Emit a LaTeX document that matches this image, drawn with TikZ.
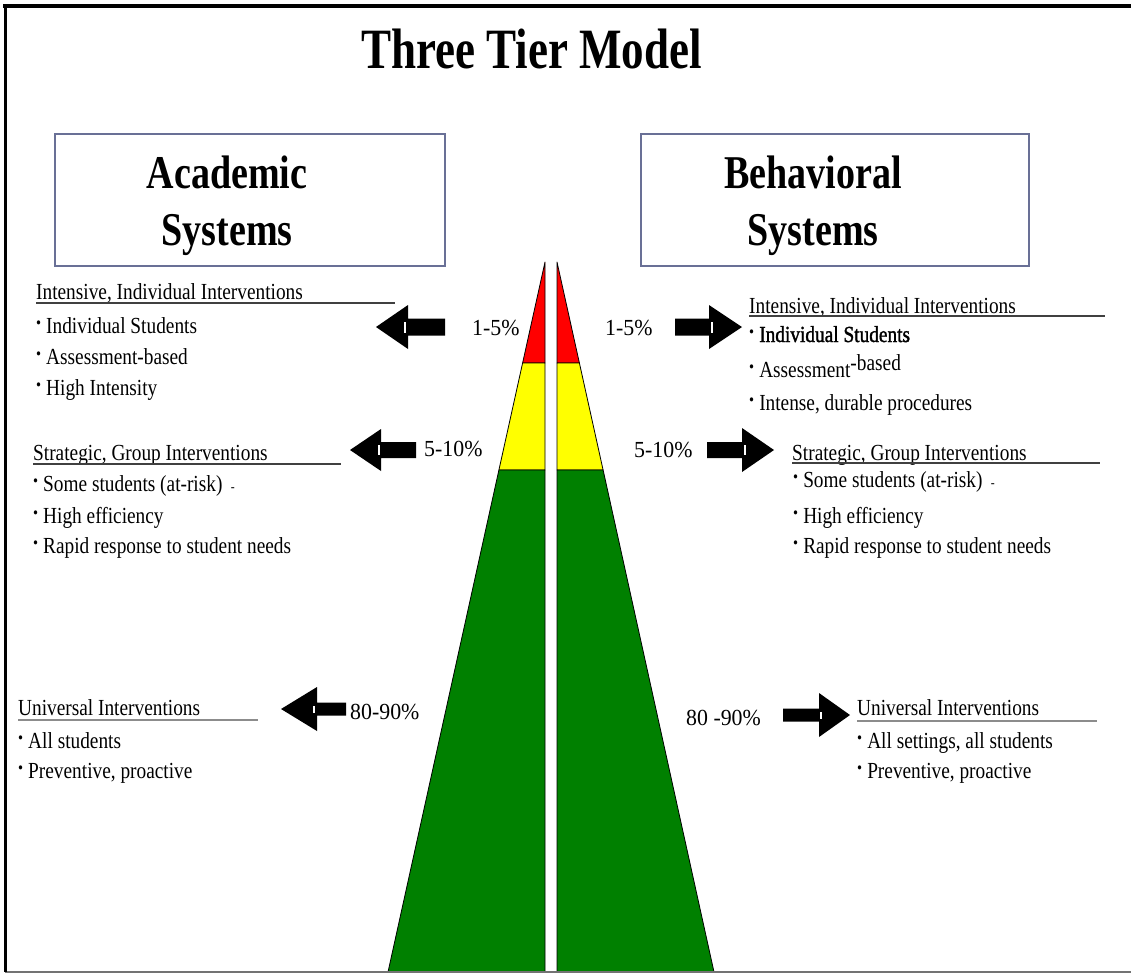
\documentclass[tikz,border=0pt]{standalone}
\usepackage{fontspec}
\setmainfont{Liberation Serif}
\newfontfamily\heavyserif[FakeBold=1.6]{Liberation Serif}
\usepackage{graphicx}
\definecolor{boxc}{RGB}{105,112,150}
\definecolor{tgreen}{RGB}{0,128,0}
\definecolor{tred}{RGB}{255,0,0}
\definecolor{tyellow}{RGB}{255,255,0}
\newcommand\cx[1]{\scalebox{0.84}[1]{#1}}
\newcommand\cl[1]{\scalebox{0.95}[1]{#1}}
\newcommand\bul{{\fontsize{17}{17}\selectfont\raisebox{5pt}{\textbullet}}\hspace{6pt}}
\newcommand\blockarrow[6]{% tail, base, tip, y, head half, shaft half
  \fill[black] ({#1},{#4-#6}) -- ({#2},{#4-#6}) -- ({#2},{#4-#5}) -- ({#3},{#4})
    -- ({#2},{#4+#5}) -- ({#2},{#4+#6}) -- ({#1},{#4+#6}) -- cycle;
  \fill[white] ({#2+(#3-#2)*0.08-1},{#4-#6+3}) rectangle ({#2+(#3-#2)*0.08+1},{#4+#6-3});}
\begin{document}
\begin{tikzpicture}[x=1pt,y=-1pt,
  txt/.style={inner sep=0pt, anchor=base west, font=\fontsize{23}{26}\selectfont},
  ttl/.style={inner sep=0pt, anchor=base, font=\fontsize{47}{50}\selectfont\bfseries},
  sysbox/.style={draw=boxc, line width=2pt, fill=white, inner sep=0pt, anchor=north west},
  band/.style={draw=black, line width=0.8pt, line join=round},
  uline/.style={line width=1.6pt, draw=black!75},
  gline/.style={line width=2.6pt, draw=black!45}
]
\useasboundingbox (0,0) rectangle (1131,975);
\fill[white] (0,0) rectangle (1131,975);

% title
\node[inner sep=0pt, anchor=base, font=\fontsize{57}{60}\selectfont\bfseries] (title) at (531.5,68) {\scalebox{0.79}[1]{Three Tier Model}};

% system boxes
\node[sysbox, minimum width=390, minimum height=132] (abox) at (54,133) {};
\node[sysbox, minimum width=388, minimum height=132] (bbox) at (640,133) {};
\node[ttl] (acad1) at (227,188) {\scalebox{0.81}[1]{Academic}};
\node[ttl] (acad2) at (227,245) {\scalebox{0.81}[1]{Systems}};
\node[ttl] (beh1) at (813,188) {\scalebox{0.81}[1]{Behavioral}};
\node[ttl] (beh2) at (813,245) {\scalebox{0.81}[1]{Systems}};

% pyramid, left half
\fill[tred, band] (545,262) -- (522.6,363) -- (545,363) -- cycle;
\fill[tyellow, band] (522.6,363) -- (498.9,470) -- (545,470) -- (545,363) -- cycle;
\fill[tgreen, band] (498.9,470) -- (388,972) -- (545,972) -- (545,470) -- cycle;
% pyramid, right half
\fill[tred, band] (557,262) -- (579.4,363) -- (557,363) -- cycle;
\fill[tyellow, band] (579.4,363) -- (603.1,470) -- (557,470) -- (557,363) -- cycle;
\fill[tgreen, band] (603.1,470) -- (714,972) -- (557,972) -- (557,470) -- cycle;

% arrows
\blockarrow{445}{408}{376}{327}{22}{8.5}
\blockarrow{416}{381}{350}{450}{21}{8}
\blockarrow{346}{317}{281}{709}{22}{6.5}
\blockarrow{675}{709}{742}{327}{22}{8.5}
\blockarrow{707}{742}{774}{450}{22}{8}
\blockarrow{783}{819}{850}{715}{22}{6.5}

% percentage labels
\node[txt] (pl1) at (472,335) {\cl{1-5\%}};
\node[txt] (pl2) at (424,456) {\cl{5-10\%}};
\node[txt] (pl3) at (350,719) {\cl{80-90\%}};
\node[txt] (pr1) at (605,335) {\cl{1-5\%}};
\node[txt] (pr2) at (634,457) {\cl{5-10\%}};
\node[txt] (pr3) at (686,725) {\cl{80 -90\%}};

% left texts
\node[txt] (lh1) at (36,299) {\cx{Intensive, Individual Interventions}};
\coordinate (lu1) at (395,303);
\draw[uline] (lh1.base west |- lu1) -- (lu1);
\node[txt] (lb11) at (36,333) {\cx{\bul Individual Students}};
\node[txt] (lb12) at (36,364) {\cx{\bul Assessment-based}};
\node[txt] (lb13) at (36,395) {\cx{\bul High Intensity}};

\node[txt] (lh2) at (33,460) {\cx{Strategic, Group Interventions}};
\coordinate (lu2) at (341,464);
\draw[uline] (lh2.base west |- lu2) -- (lu2);
\node[txt] (lb21) at (33,491) {\cx{\bul Some students (at-risk)\hspace{10pt}{\fontsize{14}{14}\selectfont-}}};
\node[txt] (lb22) at (33,523) {\cx{\bul High efficiency}};
\node[txt] (lb23) at (33,553) {\cx{\bul Rapid response to student needs}};

\node[txt] (lh3) at (18,715) {\cx{Universal Interventions}};
\coordinate (lu3) at (258,720);
\draw[gline] (lh3.base west |- lu3) -- (lu3);
\node[txt] (lb31) at (18,748) {\cx{\bul All students}};
\node[txt] (lb32) at (18,778) {\cx{\bul Preventive, proactive}};

% right texts
\node[txt] (rh1) at (749,313) {\cx{Intensive, Individual Interventions}};
\coordinate (ru1) at (1105,316);
\draw[uline] (rh1.base west |- ru1) -- (ru1);
\node[txt] (rb11) at (749,342) {\cx{\bul {\heavyserif Individual Students}}};
\node[txt] (rb12) at (749,377) {\cx{\bul Assessment\raisebox{7pt}{-based}}};
\node[txt] (rb13) at (749,410) {\cx{\bul Intense, durable procedures}};

\node[txt] (rh2) at (792,460) {\cx{Strategic, Group Interventions}};
\coordinate (ru2) at (1100,463);
\draw[uline] (rh2.base west |- ru2) -- (ru2);
\node[txt] (rb21) at (793,487) {\cx{\bul Some students (at-risk)\hspace{10pt}{\fontsize{14}{14}\selectfont-}}};
\node[txt] (rb22) at (793,523) {\cx{\bul High efficiency}};
\node[txt] (rb23) at (793,553) {\cx{\bul Rapid response to student needs}};

\node[txt] (rh3) at (857,715) {\cx{Universal Interventions}};
\coordinate (ru3) at (1097,721);
\draw[gline] (rh3.base west |- ru3) -- (ru3);
\node[txt] (rb31) at (857,748) {\cx{\bul All settings, all students}};
\node[txt] (rb32) at (857,778) {\cx{\bul Preventive, proactive}};

% frame
\draw[line width=2pt, black!55] (5,971.5) -- (1131,971.5);
\draw[line width=3pt] (5,5) -- (5,972);
\draw[line width=3.5pt] (3,6) -- (1131,6);
\end{tikzpicture}
\end{document}
